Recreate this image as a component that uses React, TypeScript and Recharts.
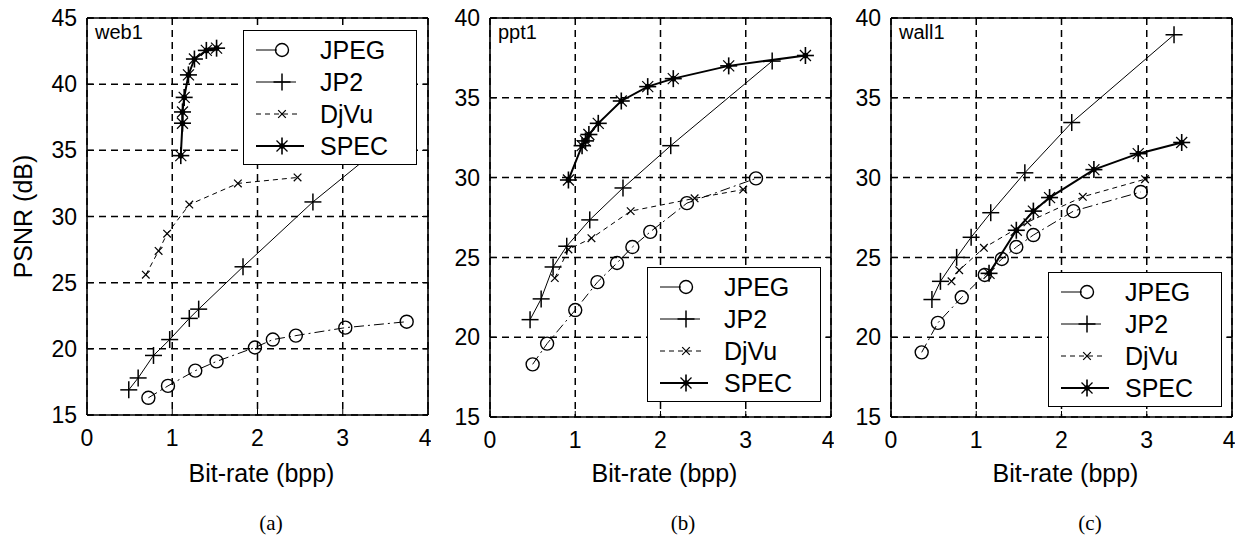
import React from 'react';
import { ScatterChart, Scatter, XAxis, YAxis, CartesianGrid, Legend } from 'recharts';

// ---------- data ----------
const xTicks = [0, 1, 2, 3, 4];
const yTicksWeb = [15, 20, 25, 30, 35, 40, 45];
const yTicksOther = [15, 20, 25, 30, 35, 40];
const seriesNames = ['JPEG', 'JP2', 'DjVu', 'SPEC'];

const web1JPEG = [[0.72, 16.3], [0.95, 17.2], [1.27, 18.35], [1.52, 19.05], [1.97, 20.1], [2.18, 20.7], [2.45, 21.0], [3.03, 21.6], [3.75, 22.05]];
const web1JP2 = [[0.49, 16.9], [0.6, 17.8], [0.78, 19.5], [0.97, 20.7], [1.2, 22.3], [1.31, 23.0], [1.83, 26.2], [2.65, 31.1], [3.7, 36.6]];
const web1DjVu = [[0.69, 25.6], [0.84, 27.4], [0.94, 28.7], [1.2, 30.9], [1.77, 32.5], [2.47, 32.95]];
const web1SPEC = [[1.1, 34.6], [1.12, 37.05], [1.12, 37.9], [1.14, 39.0], [1.19, 40.7], [1.26, 41.9], [1.4, 42.55], [1.52, 42.72]];

const ppt1JPEG = [[0.5, 18.3], [0.67, 19.6], [1.0, 21.7], [1.26, 23.45], [1.49, 24.65], [1.67, 25.65], [1.88, 26.6], [2.31, 28.4], [3.12, 29.95]];
const ppt1JP2 = [[0.47, 21.1], [0.6, 22.4], [0.74, 24.4], [0.9, 25.7], [1.17, 27.35], [1.56, 29.35], [2.12, 32.0], [3.31, 37.3]];
const ppt1DjVu = [[0.76, 23.7], [0.92, 25.5], [1.19, 26.2], [1.65, 27.9], [2.4, 28.7], [2.97, 29.25]];
const ppt1SPEC = [[0.92, 29.85], [1.08, 32.0], [1.12, 32.3], [1.16, 32.7], [1.27, 33.4], [1.54, 34.8], [1.85, 35.7], [2.15, 36.2], [2.8, 37.0], [3.7, 37.65]];

const wall1JPEG = [[0.36, 19.05], [0.55, 20.9], [0.83, 22.5], [1.1, 23.9], [1.3, 24.9], [1.47, 25.65], [1.67, 26.4], [2.14, 27.9], [2.93, 29.1]];
const wall1JP2 = [[0.48, 22.36], [0.58, 23.5], [0.77, 25.0], [0.94, 26.26], [1.17, 27.8], [1.57, 30.3], [2.12, 33.45], [3.32, 38.95]];
const wall1DjVu = [[0.71, 23.5], [0.8, 24.2], [1.09, 25.6], [1.6, 27.2], [2.25, 28.8], [2.98, 29.9]];
const wall1SPEC = [[1.15, 24.0], [1.47, 26.7], [1.67, 27.9], [1.86, 28.75], [2.38, 30.5], [2.9, 31.5], [3.41, 32.2]];

// ---------- styles ----------
const FONT = '"Liberation Sans", Arial, Helvetica, sans-serif';
const SERIF = '"Liberation Serif", "Times New Roman", serif';

const STYLE: Record<string, any> = {
  JPEG: { kind: 'circle', line: { stroke: '#000', strokeWidth: 1, strokeDasharray: '10 4 2 4' }, legendEnd: 33 },
  JP2: { kind: 'plus', line: { stroke: '#000', strokeWidth: 1 }, legendEnd: 52 },
  DjVu: { kind: 'cross', line: { stroke: '#000', strokeWidth: 1, strokeDasharray: '5 4' }, legendEnd: 56 },
  SPEC: { kind: 'star', line: { stroke: '#000', strokeWidth: 2 }, legendEnd: 60 },
};

const toPts = (a: number[][]) => a.map(([x, y]) => ({ x, y }));

function Marker({ kind, cx, cy }: { kind: string; cx: number; cy: number }) {
  if (cx == null || cy == null || isNaN(cx) || isNaN(cy)) return null;
  if (kind === 'circle') {
    return <circle cx={cx} cy={cy} r={6.5} fill="none" stroke="#000" strokeWidth={1.4} />;
  }
  if (kind === 'plus') {
    const h = 8.5;
    return (
      <g stroke="#000" strokeWidth={1.5}>
        <line x1={cx - h} x2={cx + h} y1={cy} y2={cy} />
        <line x1={cx} x2={cx} y1={cy - h} y2={cy + h} />
      </g>
    );
  }
  if (kind === 'cross') {
    const h = 3.8;
    return (
      <g stroke="#000" strokeWidth={1.2}>
        <line x1={cx - h} x2={cx + h} y1={cy - h} y2={cy + h} />
        <line x1={cx - h} x2={cx + h} y1={cy + h} y2={cy - h} />
      </g>
    );
  }
  const h = 8.5;
  const d = 5.5;
  return (
    <g stroke="#000" strokeWidth={1.6}>
      <line x1={cx - h} x2={cx + h} y1={cy} y2={cy} />
      <line x1={cx} x2={cx} y1={cy - h} y2={cy + h} />
      <line x1={cx - d} x2={cx + d} y1={cy - d} y2={cy + d} strokeWidth={1.2} />
      <line x1={cx - d} x2={cx + d} y1={cy + d} y2={cy - d} strokeWidth={1.2} />
      <circle cx={cx} cy={cy} r={2.8} fill="#000" stroke="none" />
    </g>
  );
}

const ROWS = [19, 51, 83, 115];

function LegendBox() {
  return (
    <div
      style={{
        width: 174,
        height: 135,
        boxSizing: 'border-box',
        border: '1.5px solid #000',
        background: '#fff',
        position: 'relative',
      }}
    >
      {seriesNames.map((name, i) => {
        const s = STYLE[name];
        return (
          <div key={name} style={{ position: 'absolute', left: 0, top: ROWS[i] - 16, width: 170, height: 32 }}>
            <svg width={70} height={32} style={{ position: 'absolute', left: 0, top: 0 }}>
              <line x1={12} x2={s.legendEnd} y1={16} y2={16} {...s.line} strokeDasharray={name === 'DjVu' ? '5 4' : undefined} />
              <Marker kind={s.kind} cx={38} cy={16} />
            </svg>
            <span
              style={{
                position: 'absolute',
                left: 76,
                top: 0,
                lineHeight: '32px',
                fontSize: 25,
                fontFamily: FONT,
                color: '#000',
                whiteSpace: 'nowrap',
              }}
            >
              {name}
            </span>
          </div>
        );
      })}
    </div>
  );
}

type PanelProps = {
  chartLeft: number;
  yMax: number;
  yTicks: number[];
  xAxisHeight: number;
  series: number[][][];
  title: string;
  legendLeft: number;
  legendTop: number;
};

const AXIS_W = 80;
const PLOT_W = 341;

function Panel({ chartLeft, yMax, yTicks, xAxisHeight, series, title, legendLeft, legendTop }: PanelProps) {
  const width = AXIS_W + PLOT_W + 1 + 2;
  const tickStyle = { fill: '#000', fontSize: 23, fontFamily: FONT };
  const axisLine = { stroke: '#000', strokeWidth: 1.6 };
  const tickLine = { stroke: '#000', strokeWidth: 1 };
  return (
    <div style={{ position: 'absolute', left: chartLeft, top: 0, width, height: 542 }}>
      <ScatterChart width={width} height={542} margin={{ top: 17, right: 2, bottom: 0, left: 0 }}>
        <CartesianGrid stroke="#000" strokeWidth={1.5} strokeDasharray="7 5" />
        <XAxis
          dataKey="x"
          type="number"
          domain={[0, 4]}
          ticks={xTicks}
          height={xAxisHeight}
          tickSize={-6}
          tickMargin={21}
          axisLine={axisLine}
          tickLine={tickLine}
          tick={tickStyle}
          allowDataOverflow
        />
        <XAxis
          xAxisId="top"
          orientation="top"
          type="number"
          domain={[0, 4]}
          ticks={xTicks}
          height={1}
          tickSize={-6}
          tickFormatter={() => ''}
          axisLine={axisLine}
          tickLine={tickLine}
          allowDataOverflow
        />
        <YAxis
          dataKey="y"
          type="number"
          domain={[15, yMax]}
          ticks={yTicks}
          width={AXIS_W}
          tickSize={-6}
          tickMargin={16}
          axisLine={axisLine}
          tickLine={tickLine}
          tick={tickStyle}
          allowDataOverflow
        />
        <YAxis
          yAxisId="right"
          orientation="right"
          type="number"
          domain={[15, yMax]}
          ticks={yTicks}
          width={1}
          tickSize={-6}
          tickFormatter={() => ''}
          axisLine={axisLine}
          tickLine={tickLine}
          allowDataOverflow
        />
        <Legend
          layout="vertical"
          align="center"
          verticalAlign="middle"
          wrapperStyle={{ position: 'absolute', left: legendLeft, top: legendTop, width: 174, height: 135 }}
          content={() => <LegendBox />}
        />
        {seriesNames.map((name, i) => {
          const s = STYLE[name];
          return (
            <Scatter
              key={name}
              name={name}
              data={toPts(series[i])}
              line={s.line}
              lineType="joint"
              isAnimationActive={false}
              shape={(p: any) => <Marker kind={s.kind} cx={p.cx} cy={p.cy} />}
            />
          );
        })}
      </ScatterChart>
      <div
        style={{
          position: 'absolute',
          left: AXIS_W + 8,
          top: 22,
          fontSize: 20,
          lineHeight: '20px',
          fontFamily: FONT,
          color: '#000',
        }}
      >
        {title}
      </div>
      <div
        style={{
          position: 'absolute',
          left: AXIS_W + PLOT_W / 2 + 4 - 120,
          width: 240,
          textAlign: 'center',
          top: 461,
          fontSize: 25,
          lineHeight: '25px',
          fontFamily: FONT,
          color: '#000',
        }}
      >
        Bit-rate (bpp)
      </div>
    </div>
  );
}

function Caption({ x, text }: { x: number; text: string }) {
  return (
    <div
      style={{
        position: 'absolute',
        left: x - 30,
        width: 60,
        textAlign: 'center',
        top: 512,
        fontSize: 21,
        lineHeight: '22px',
        fontFamily: SERIF,
        color: '#000',
      }}
    >
      {text}
    </div>
  );
}

export default function App() {
  return (
    <div style={{ position: 'absolute', left: 0, top: 0, width: 1245, height: 542, background: '#fff', overflow: 'hidden' }}>
      <Panel
        chartLeft={7}
        yMax={45}
        yTicks={yTicksWeb}
        xAxisHeight={127}
        series={[web1JPEG, web1JP2, web1DjVu, web1SPEC]}
        title="web1"
        legendLeft={236}
        legendTop={30}
      />
      <Panel
        chartLeft={410}
        yMax={40}
        yTicks={yTicksOther}
        xAxisHeight={125}
        series={[ppt1JPEG, ppt1JP2, ppt1DjVu, ppt1SPEC]}
        title="ppt1"
        legendLeft={237}
        legendTop={267}
      />
      <Panel
        chartLeft={811}
        yMax={40}
        yTicks={yTicksOther}
        xAxisHeight={125}
        series={[wall1JPEG, wall1JP2, wall1DjVu, wall1SPEC]}
        title="wall1"
        legendLeft={237}
        legendTop={272}
      />
      <div
        style={{
          position: 'absolute',
          left: 23 - 100,
          top: 216 - 12.5,
          width: 200,
          height: 25,
          lineHeight: '25px',
          textAlign: 'center',
          fontSize: 25,
          fontFamily: FONT,
          color: '#000',
          transform: 'rotate(-90deg)',
        }}
      >
        PSNR (dB)
      </div>
      <Caption x={271} text="(a)" />
      <Caption x={683} text="(b)" />
      <Caption x={1090} text="(c)" />
    </div>
  );
}
